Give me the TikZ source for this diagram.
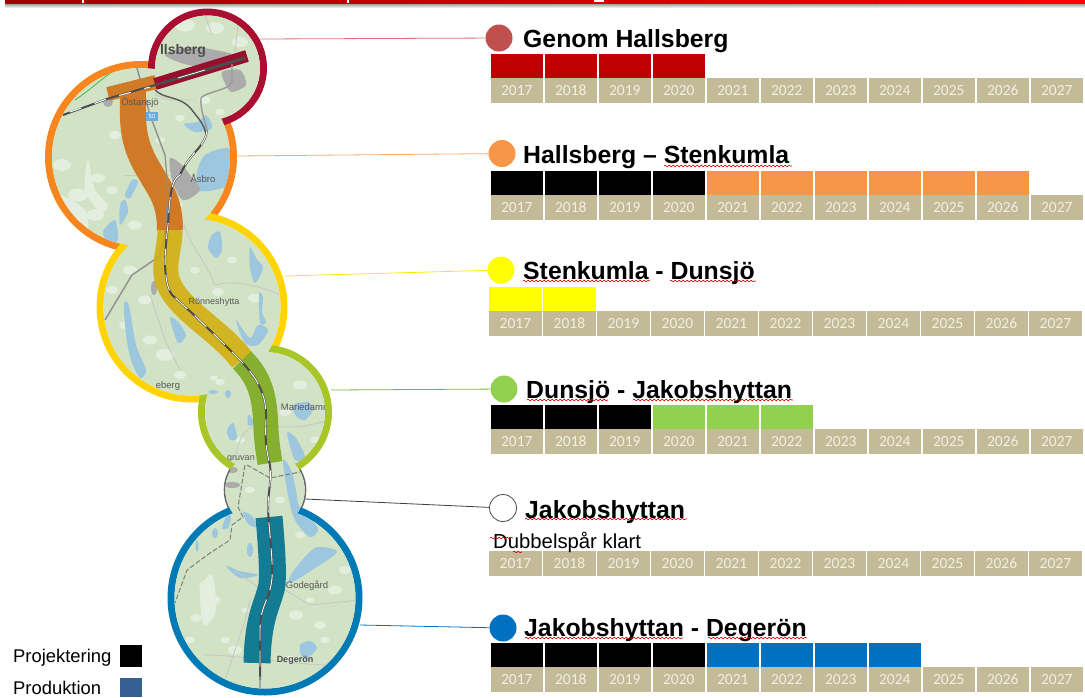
\documentclass[tikz,border=0pt]{standalone}
\usepackage{fontspec}
\setmainfont{Liberation Sans}
\newfontfamily\yearfont{Carlito}
\usetikzlibrary{decorations.pathmorphing}
\definecolor{mapgreen}{HTML}{D2E2C4}
\definecolor{mappale}{HTML}{E4EEDF}
\definecolor{lakeblue}{HTML}{9CC7DE}
\definecolor{towngray}{HTML}{ABABAB}
\definecolor{tan}{HTML}{C3BB97}
\definecolor{yeartext}{HTML}{F1EFE4}
\definecolor{cRed}{HTML}{C00000}
\definecolor{cOrange}{HTML}{F79646}
\definecolor{cYellow}{HTML}{FFFF00}
\definecolor{cGreen}{HTML}{92D050}
\definecolor{cBlue}{HTML}{0070C0}
\definecolor{ringRed}{HTML}{AA0F32}
\definecolor{ringOrange}{HTML}{F7861E}
\definecolor{ringYellow}{HTML}{FFD400}
\definecolor{ringGreen}{HTML}{A8C628}
\definecolor{ringBlue}{HTML}{007AB5}
\definecolor{bandOrange}{HTML}{D07A28}
\definecolor{bandYellow}{HTML}{D2AE10}
\definecolor{bandGreen}{HTML}{7EAA20}
\definecolor{bandBlue}{HTML}{00708F}
\tikzset{
  lake/.style={fill=lakeblue,draw=none},
  patch/.style={fill=mappale,draw=none},
  town/.style={fill=towngray,draw=none},
  road/.style={draw=#1,line width=0.8pt,line join=round},
  road/.default=gray!60,
  band/.style={line width=#1,line join=round,line cap=butt,opacity=0.9},
  solidband/.style={line width=#1,line join=round,line cap=butt},
  ring/.style={line width=7pt,draw=#1},
  yearcell/.style={fill=tan,minimum width=52.5pt,minimum height=25pt,inner sep=0pt,anchor=north west,text=yeartext,font=\yearfont\fontsize{15.5}{15.5}\selectfont},
  barcell/.style={minimum width=52.5pt,minimum height=24pt,inner sep=0pt,anchor=north west},
  dot/.style={circle,minimum size=27pt,inner sep=0pt},
  lead/.style={line width=0.8pt},
  heading/.style={anchor=base west,inner sep=0pt,font=\bfseries\fontsize{24.8}{24.8}\selectfont},
  plain/.style={anchor=base west,inner sep=0pt},
  maplabel/.style={inner sep=0pt,text=black!65,font=\fontsize{#1}{#1}\selectfont},
  maplabel/.default=9.5,
  spell/.style={draw=red!85!black,line width=0.6pt,decorate,decoration={snake,amplitude=0.8pt,segment length=4pt}},
}
\begin{document}
\begin{tikzpicture}[x=1pt,y=-1pt]
\useasboundingbox (0,0) rectangle (1085,697);
% top bar
\shade[top color=black!45,bottom color=white] (5,3) rectangle (1085,8);
\shade[left color=cRed!85!black,right color=red] (5,0) rectangle (1085,3.3);
\fill[white] (81.5,0) rectangle (83.5,3);
\fill[white] (346.5,0) rectangle (348.5,3);
\fill[white] (594,0) rectangle (604,1.5);
\fill[black!70] (449.5,1.5) rectangle (450.5,3.3);
\fill[black!70] (666.5,1.5) rectangle (667.5,3.3);
\fill[black!70] (874.5,1.5) rectangle (875.5,3.3);
\fill[black!70] (954.5,1.5) rectangle (955.5,3.3);
% rings
\coordinate (cR) at (207.5,68);
\coordinate (cO) at (141,157);
\coordinate (cY) at (192,307);
\coordinate (cG) at (265,412);
\coordinate (cW) at (265,490);
\coordinate (cB) at (265,598);
\draw[line width=1.6pt,draw=gray!80!black] (cW) circle[radius=40.5];
\draw[ring=ringOrange] (cO) circle[radius=92.5];
\draw[ring=ringYellow] (cY) circle[radius=92];
\draw[ring=ringGreen] (cG) circle[radius=63.5];
\draw[ring=ringBlue] (cB) circle[radius=94];
\draw[ring=ringRed] (cR) circle[radius=56];
% map
\begin{scope}
\clip (cR) circle[radius=52.5] (cO) circle[radius=89] (cY) circle[radius=88.5] (cG) circle[radius=60] (cW) circle[radius=39.7] (cB) circle[radius=90.5];
\fill[mapgreen] (0,0) rectangle (400,697);
% pale patches
\foreach \px/\py/\pr in {62/165/9,78/195/10,98/178/7,72/225/8,95/215/9,112/190/6,115/135/6,135/225/7,160/140/5,
   185/25/10,215/28/9,240/42/8,205/100/6,180/118/5,220/112/5,178/205/5,
   130/270/7,112/290/6,145/300/7,125/325/6,165/355/9,150/340/7,218/292/6,255/298/7,232/260/5,195/270/5,
   180/375/6,220/382/5,214/378/4,300/385/7,315/440/5,285/412/6,240/440/5,
   222/470/5,250/490/5,280/500/5,205/585/6,212/600/8,196/618/6,190/640/5,296/615/7,320/625/6,335/590/7,345/570/6,
   235/650/7,290/660/6,225/640/5,325/640/5,300/535/5,310/600/4,245/610/4}{
  \fill[patch] (\px,\py) ellipse[x radius=\pr,y radius=0.65*\pr];
}
\fill[patch] plot[smooth cycle] coordinates {(88,160)(95,190)(108,205)(100,212)(85,190)};
\fill[patch] plot[smooth cycle] coordinates {(60,195)(85,210)(88,235)(78,232)(62,212)};
\fill[patch] plot[smooth cycle] coordinates {(200,590)(212,575)(216,610)(204,625)};
% lakes
\fill[lake] plot[smooth cycle] coordinates {(197,172)(205,155)(225,148)(236,152)(232,182)(215,190)(198,190)};
\fill[lake] plot[smooth cycle] coordinates {(184,124)(198,122)(206,115)(212,128)(195,132)};
\fill[lake] plot[smooth cycle] coordinates {(125,195)(132,180)(138,182)(130,198)};
\fill[lake] plot[smooth cycle] coordinates {(120,205)(125,200)(128,212)(120,225)};
\fill[lake] plot[smooth cycle] coordinates {(103,232)(115,220)(118,240)(110,245)};
\fill[lake] plot[smooth cycle] coordinates {(212,235)(220,232)(222,250)(216,258)(208,248)};
\fill[lake] plot[smooth cycle] coordinates {(250,247)(256,258)(263,268)(255,283)(250,268)};
\fill[lake] plot[smooth cycle] coordinates {(236,320)(250,338)(258,325)(268,330)(258,345)(245,343)};
\fill[lake] plot[smooth cycle] coordinates {(124,304)(129,306)(136,345)(146,370)(140,378)(131,360)(126,335)};
\fill[lake] plot[smooth cycle] coordinates {(259,293)(263,298)(262,312)(266,322)(260,323)};
\fill[lake] plot[smooth cycle] coordinates {(170,318)(178,322)(186,335)(178,343)};
\fill[lake] plot[smooth cycle] coordinates {(293,405)(308,402)(313,410)(305,420)(296,416)};
\fill[lake] plot[smooth cycle] coordinates {(287,433)(296,438)(305,457)(295,460)};
\fill[lake] plot[smooth cycle] coordinates {(227,430)(233,423)(237,438)(230,440)};
\fill[lake] plot[smooth cycle] coordinates {(248,415)(252,418)(253,425)(248,425)};
\fill[lake] (213,392) ellipse[x radius=5,y radius=2];
\fill[lake] (228,394) ellipse[x radius=3,y radius=4];
\fill[lake] plot[smooth cycle] coordinates {(283,460)(291,470)(296,490)(300,508)(318,528)(310,537)(295,520)(288,495)};
\fill[lake] plot[smooth cycle] coordinates {(315,548)(337,552)(312,570)(290,583)(292,573)};
\fill[lake] plot[smooth cycle] coordinates {(226,566)(240,571)(258,575)(240,578)};
\fill[lake] plot[smooth cycle] coordinates {(243,512)(252,516)(257,527)(248,524)};
\fill[lake] plot[smooth cycle] coordinates {(222,528)(228,513)(231,518)(228,528)};
\fill[lake] (215,533) ellipse[x radius=3,y radius=5];
\fill[lake] (197,546) ellipse[x radius=1.5,y radius=6];
\fill[lake] (250,550) ellipse[x radius=3,y radius=7];
\fill[lake] plot[smooth cycle] coordinates {(300,645)(310,641)(317,648)(306,659)(301,655)};
% towns
\fill[town] plot[smooth cycle] coordinates {(165,55)(190,47)(225,52)(235,58)(195,66)};
\fill[town] plot[smooth cycle] coordinates {(222,72)(240,70)(246,85)(232,92)(226,85)};
\fill[town] plot[smooth cycle] coordinates {(170,158)(182,165)(190,175)(200,190)(183,200)(172,180)};
\fill[town] (108,102) circle[radius=5];
\fill[town] (232,470) ellipse[x radius=6,y radius=3];
\fill[town] (232,485) ellipse[x radius=8,y radius=3];
\fill[town] (154,288) ellipse[x radius=3,y radius=7];
% thin roads
\draw[road=gray!45] (155,95) -- (170,100) -- (190,100);
\draw[road=gray!45] (205,15) -- (212,35);
\draw[road=gray!45] (238,25) -- (235,52);
\draw[road=gray!45] (125,175) -- (170,175);
\draw[road=gray!45] (184,225) .. controls (190,245) and (205,260) .. (215,285) .. controls (230,280) and (260,285) .. (280,295);
\draw[road=gray!45] (150,295) -- (165,340) -- (180,370);
\draw[road=gray!45] (235,460) .. controls (240,425) and (255,425) .. (265,425) .. controls (295,430) and (310,425) .. (330,420);
\draw[road=gray!45] (235,570) -- (262,590) -- (285,590) -- (310,605) -- (360,600);
\draw[road=gray!45] (225,680) -- (245,620) -- (250,600);
\draw[road=gray!45] (205,655) .. controls (240,655) and (290,665) .. (335,665);
\draw[road=green!45!gray] (75,100) .. controls (90,90) and (100,80) .. (112,72);
% main road
\draw[line width=1.5pt,draw=gray!85] (137,68) -- (150,115) -- (165,155);
\draw[line width=1.5pt,draw=gray!85] (165,235) -- (160,256) -- (132,275) -- (105,320);
% bands
\draw[solidband=14pt,draw=bandOrange] (108,94) -- (156,82);
\draw[solidband=26pt,draw=bandOrange] (133,88) .. controls (133,120) and (130,140) .. (150,172) .. controls (160,190) and (170,200) .. (170,230);
\draw[band=25pt,draw=bandYellow] (170,230) .. controls (170,250) and (162,265) .. (168,282) .. controls (178,310) and (220,330) .. (242,360);
\draw[band=25pt,draw=bandGreen] (242,360) .. controls (262,380) and (265,400) .. (266,430) .. controls (267,445) and (268,450) .. (270,463);
\draw[band=27pt,draw=bandBlue] (269,517) .. controls (272,550) and (273,570) .. (272,585) .. controls (268,605) and (258,615) .. (257,663);
\draw[solidband=12pt,draw=ringRed!90!black] (155,84) -- (247,56);
% main road over the orange and yellow bands
\draw[line width=1.2pt,draw=black!45] (165,155) -- (168,190) -- (165,235);
% railway
\draw[line width=3pt,draw=black!70] (162,83) -- (245,58);
\draw[line width=2pt,draw=black!70] (63,115) -- (110,98) -- (162,83);
\draw[line width=1pt,draw=white,dash pattern=on 12pt off 14pt] (70,112) -- (110,98) -- (150,87);
\draw[line width=0.8pt,draw=white] (178,78) -- (205,70);
\draw[line width=1.4pt,draw=black!65,line join=round] (155,90) .. controls (165,100) and (180,95) .. (192,110) .. controls (198,118) and (205,125) .. (206,135);
\draw[line width=1.4pt,draw=gray!80!white] (232,64) -- (232,82) .. controls (230,90) and (205,92) .. (201,98) .. controls (200,110) and (205,120) .. (207,130);
\draw[line width=2pt,draw=black!70,line join=round] (207,130) .. controls (205,148) and (190,152) .. (180,175) .. controls (172,180) and (170,190) .. (168,225) .. controls (165,250) and (162,280) .. (172,295) .. controls (195,315) and (225,345) .. (242,362) .. controls (258,380) and (267,395) .. (266,420) .. controls (265,440) and (266,450) .. (270,465) .. controls (272,480) and (268,490) .. (268,510) .. controls (270,540) and (273,560) .. (272,578) .. controls (270,600) and (260,605) .. (260,630) -- (260,680);
\draw[line width=0.9pt,draw=white,dash pattern=on 16pt off 10pt,line join=round] (207,130) .. controls (205,148) and (190,152) .. (180,175) .. controls (172,180) and (170,190) .. (168,225) .. controls (165,250) and (162,280) .. (172,295) .. controls (195,315) and (225,345) .. (242,362) .. controls (258,380) and (267,395) .. (266,420) .. controls (265,440) and (266,450) .. (270,465) .. controls (272,480) and (268,490) .. (268,510) .. controls (270,540) and (273,560) .. (272,578) .. controls (270,600) and (260,605) .. (260,630) -- (260,680);
\draw[line width=2pt,draw=gray!70] (260,680) -- (260,697);
\draw[line width=1pt,draw=gray,dash pattern=on 5pt off 2pt] (245,465) -- (238,507) -- (243,517) -- (232,525) -- (230,540) -- (210,553) -- (187,570) -- (175,603);
\draw[line width=1pt,draw=gray,dash pattern=on 5pt off 2pt] (247,465) -- (270,478) -- (300,472);
% labels on the map
\node[inner sep=0pt,text=black!70,font=\bfseries\fontsize{14}{14}\selectfont] (mHallsberg) at (183,51) {llsberg};
\node[maplabel] (mOstansjo) at (140,103) {Östansjö};
\node[maplabel] (mAsbro) at (203,178) {Åsbro};
\node[maplabel=9] (mRonne) at (214,302) {Rönneshytta};
\node[maplabel] (mBerg) at (168,386) {eberg};
\node[maplabel] (mMarie) at (306,407) {Mariedamm};
\node[maplabel=9] (mGruvan) at (241,459) {gruvan};
\node[maplabel=9.5] (mGode) at (307,586) {Godegård};
\node[inner sep=0pt,text=black!70,font=\bfseries\fontsize{9}{9}\selectfont] (mDegeron) at (295,660) {Degerön};
\node[fill={rgb,255:red,111;green,168;blue,220},text=white,inner sep=0pt,minimum width=12pt,minimum height=9pt,font=\fontsize{6}{6}\selectfont] (mFifty) at (152,116) {50};
\end{scope}
% timelines
\foreach \rowy/\rowname/\rowx in {78/a/490.3,195/b/490.3,311/c/489,429/d/490.3,551/e/489,667/f/490.3}{
  \foreach \i [evaluate=\i as \xx using \rowx+54*\i, evaluate=\i as \yr using int(2017+\i)] in {0,...,10}{
    \node[yearcell] (y\rowname\i) at (\xx,\rowy) {\yr};
  }
}
\foreach \cy/\i/\col/\rowx in {54/0/cRed/490.3,54/1/cRed/490.3,54/2/cRed/490.3,54/3/cRed/490.3,
  171/0/black/490.3,171/1/black/490.3,171/2/black/490.3,171/3/black/490.3,171/4/cOrange/490.3,171/5/cOrange/490.3,171/6/cOrange/490.3,171/7/cOrange/490.3,171/8/cOrange/490.3,171/9/cOrange/490.3,
  287/0/cYellow/489,287/1/cYellow/489,
  405/0/black/490.3,405/1/black/490.3,405/2/black/490.3,405/3/cGreen/490.3,405/4/cGreen/490.3,405/5/cGreen/490.3,
  643/0/black/490.3,643/1/black/490.3,643/2/black/490.3,643/3/black/490.3,643/4/cBlue/490.3,643/5/cBlue/490.3,643/6/cBlue/490.3,643/7/cBlue/490.3}{
  \pgfmathsetmacro{\xx}{\rowx+54*\i}
  \node[barcell,fill=\col] (bar\cy-\i) at (\xx,\cy) {};
}
% heading dots and leaders
\node[dot,fill={rgb,255:red,192;green,80;blue,77}] (d1) at (499,38) {};
\node[dot,fill=cOrange] (d2) at (502,153.5) {};
\node[dot,fill=cYellow] (d3) at (501,270) {};
\node[dot,fill=cGreen] (d4) at (504,389) {};
\node[dot,fill=white,draw=black!70,line width=0.8pt] (d5) at (503,508) {};
\node[dot,fill=cBlue] (d6) at (503,628) {};
\coordinate (e1) at (260,39);
\coordinate (e2) at (237,156);
\coordinate (e3) at (285,276);
\coordinate (e4) at (331,390);
\coordinate (e5) at (305,499);
\coordinate (e6) at (360,625);
\draw[lead,draw=cRed!55] (e1) -- (d1);
\draw[lead,draw=cOrange!80] (e2) -- (d2);
\draw[lead,draw=yellow!90!orange] (e3) -- (d3);
\draw[lead,draw=cGreen!85!black] (e4) -- (d4);
\draw[lead,draw=black!75] (e5) -- (d5);
\draw[lead,draw=cBlue] (e6) -- (d6);
% headings
\node[heading] (h1) at (523,47) {Genom Hallsberg};
\node[heading] (h2) at (523,163) {Hallsberg – Stenkumla};
\node[heading] (h3) at (523,279) {Stenkumla - Dunsjö};
\node[heading] (h4) at (526,398) {Dunsjö - Jakobshyttan};
\node[heading] (h5) at (525,518) {Jakobshyttan};
\node[heading] (h6) at (524,636) {Jakobshyttan - Degerön};
\node[plain,font=\fontsize{20.3}{20.3}\selectfont] (h7) at (493,548) {Dubbelspår klart};
% spelling underlines
\draw[spell] (664,166) -- (792,166);
\draw[spell] (523,281) -- (650,281);
\draw[spell] (670,281) -- (756,281);
\draw[spell] (527,400) -- (608,400);
\draw[spell] (633,400) -- (793,400);
\draw[spell] (525,519) -- (687,519);
\draw[spell] (490,538) -- (513,538);
\draw[spell] (513,552) -- (522,552);
\draw[spell] (525,638) -- (683,638);
\draw[spell] (708,638) -- (807,638);
% legend
\node[plain,font=\fontsize{18.4}{18.4}\selectfont] (lg1) at (13,662) {Projektering};
\node[plain,font=\fontsize{18.4}{18.4}\selectfont] (lg2) at (13,694) {Produktion};
\node[fill=black,minimum width=22pt,minimum height=22pt,inner sep=0pt,anchor=north west] (sq1) at (120,645) {};
\node[fill={rgb,255:red,55;green,96;blue,146},minimum width=22pt,minimum height=19pt,inner sep=0pt,anchor=north west] (sq2) at (120,678) {};
\end{tikzpicture}
\end{document}
